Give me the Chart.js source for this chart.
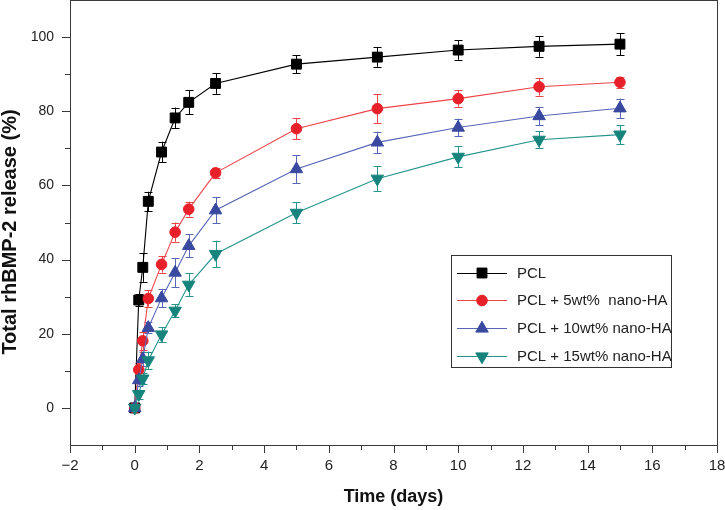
<!DOCTYPE html>
<html>
<head>
<meta charset="utf-8">
<script src="https://cdn.jsdelivr.net/npm/chart.js@4.4.1/dist/chart.umd.min.js"></script>
<style>
  html, body { margin: 0; padding: 0; background: #ffffff; }
  #wrap { width: 725px; height: 510px; }
</style>
</head>
<body>
<div id="wrap"><canvas id="c" width="725" height="510"></canvas></div>
<script>
// ---- data ----
const days = [0, 0.125, 0.25, 0.42, 0.83, 1.25, 1.67, 2.5, 5, 7.5, 10, 12.5, 15];

const pclValues  = [0, 29.1, 37.9, 55.7, 69.0, 78.2, 82.4, 87.5, 92.7, 94.6, 96.5, 97.5, 98.1];
const pclErrors  = [0, 1.5, 3.9, 2.6, 2.8, 2.8, 3.2, 2.8, 2.4, 2.6, 2.6, 2.8, 3.0];

const ha5Values  = [0, 10.3, 18.1, 29.5, 38.7, 47.4, 53.6, 63.4, 75.3, 80.7, 83.4, 86.6, 87.8];
const ha5Errors  = [0, 1.8, 2.5, 2.2, 2.2, 2.6, 2.0, 1.4, 2.9, 3.9, 2.2, 2.4, 1.5];

const ha10Values = [0, 7.5, 13.2, 21.6, 29.6, 36.5, 43.7, 53.3, 64.4, 71.6, 75.6, 78.7, 80.8];
const ha10Errors = [0, 1.5, 2.0, 1.5, 2.5, 3.9, 3.1, 3.5, 3.8, 2.9, 2.4, 2.5, 2.6];

const ha15Values = [0, 3.7, 7.9, 12.8, 19.8, 26.2, 33.2, 41.5, 52.6, 61.8, 67.7, 72.3, 73.7];
const ha15Errors = [0, 1.2, 1.5, 2.4, 2.0, 1.7, 3.1, 3.6, 2.8, 3.4, 2.8, 2.3, 2.6];

const seriesLabels = ['PCL', 'PCL + 5wt%  nano-HA', 'PCL + 10wt% nano-HA', 'PCL + 15wt% nano-HA'];

const xTickLabels = [-2, 0, 2, 4, 6, 8, 10, 12, 14, 16, 18];
const yTickLabels = [0, 20, 40, 60, 80, 100];
const xTitle = 'Time (days)';
const yTitle = 'Total rhBMP-2 release (%)';

// ---- build datasets ----
function pts(vals) { return days.map((d, i) => ({ x: d, y: vals[i] })); }

const styles = [
  { line: '#000000', fill: '#000000', style: 'rect', radius: 7, rotation: 0 },
  { line: '#ee4448', fill: '#e8202a', style: 'circle', radius: 5.3, rotation: 0 },
  { line: '#5866b8', fill: '#3949a0', style: 'triangle', radius: 7.2, rotation: 0 },
  { line: '#26948c', fill: '#16847c', style: 'triangle', radius: 7.2, rotation: 180 }
];
const allValues = [pclValues, ha5Values, ha10Values, ha15Values];
const allErrors = [pclErrors, ha5Errors, ha10Errors, ha15Errors];

const datasets = allValues.map((vals, i) => ({
  label: seriesLabels[i],
  data: pts(vals),
  errors: allErrors[i],
  showLine: true,
  borderColor: styles[i].line,
  borderWidth: 1.1,
  backgroundColor: styles[i].fill,
  pointBackgroundColor: styles[i].fill,
  pointBorderColor: styles[i].fill,
  pointBorderWidth: 1,
  pointStyle: styles[i].style,
  pointRadius: styles[i].radius,
  pointRotation: styles[i].rotation,
  tension: 0,
  order: 4 - i
}));

const AXIS = '#3a3a3a';

const errorBars = {
  id: 'errorBars',
  beforeDatasetsDraw(chart) {
    const ctx = chart.ctx, ys = chart.scales.y, xs = chart.scales.x;
    ctx.save();
    chart.data.datasets.forEach((ds) => {
      ctx.strokeStyle = ds.borderColor;
      ctx.lineWidth = 1;
      ds.data.forEach((p, i) => {
        const e = ds.errors[i];
        if (!e) return;
        const x = Math.round(xs.getPixelForValue(p.x)) + 0.5;
        const y1 = ys.getPixelForValue(p.y + e);
        const y2 = ys.getPixelForValue(p.y - e);
        ctx.beginPath();
        ctx.moveTo(x, y1); ctx.lineTo(x, y2);
        ctx.moveTo(x - 4, Math.round(y1) + 0.5); ctx.lineTo(x + 4, Math.round(y1) + 0.5);
        ctx.moveTo(x - 4, Math.round(y2) + 0.5); ctx.lineTo(x + 4, Math.round(y2) + 0.5);
        ctx.stroke();
      });
    });
    ctx.restore();
  }
};

const frameAndLegend = {
  id: 'frameAndLegend',
  afterDraw(chart) {
    const ctx = chart.ctx, a = chart.chartArea, xs = chart.scales.x, ys = chart.scales.y;
    ctx.save();
    // frame
    ctx.strokeStyle = AXIS;
    ctx.lineWidth = 1;
    ctx.strokeRect(Math.round(a.left) + 0.5, Math.round(a.top) + 0.5,
                   Math.round(a.right - a.left), Math.round(a.bottom - a.top));
    // ticks
    ctx.beginPath();
    for (let v = -2; v <= 18; v++) {
      const x = Math.round(xs.getPixelForValue(v)) + 0.5;
      const len = (v % 2 === 0) ? 8 : 5;
      ctx.moveTo(x, Math.round(a.bottom)); ctx.lineTo(x, Math.round(a.bottom) + len);
    }
    for (let v = 0; v <= 100; v += 10) {
      const y = Math.round(ys.getPixelForValue(v)) + 0.5;
      const len = (v % 20 === 0) ? 8 : 5;
      ctx.moveTo(Math.round(a.left), y); ctx.lineTo(Math.round(a.left) - len, y);
    }
    ctx.stroke();

    // y axis title
    ctx.save();
    ctx.translate(10.5, 232);
    ctx.rotate(-Math.PI / 2);
    ctx.font = 'bold 20px "Liberation Sans", Arial, sans-serif';
    ctx.fillStyle = '#111111';
    ctx.textAlign = 'center';
    ctx.textBaseline = 'middle';
    ctx.fillText(yTitle, 0, 0);
    ctx.restore();

    // legend
    const lx = 451.5, ly = 255.5, lw = 220, lh = 112;
    ctx.fillStyle = '#ffffff';
    ctx.fillRect(lx, ly, lw, lh);
    ctx.strokeStyle = '#333333';
    ctx.strokeRect(lx, ly, lw, lh);
    const rowY = [272.5, 300, 328, 356];
    ctx.font = '15px "Liberation Sans", Arial, sans-serif';
    ctx.textBaseline = 'middle';
    ctx.textAlign = 'left';
    chart.data.datasets.forEach((ds, i) => {
      const y = rowY[i];
      ctx.strokeStyle = ds.borderColor;
      ctx.lineWidth = 1;
      ctx.beginPath();
      ctx.moveTo(457, Math.round(y) + 0.5); ctx.lineTo(507, Math.round(y) + 0.5);
      ctx.stroke();
      ctx.fillStyle = ds.pointBackgroundColor;
      ctx.strokeStyle = ds.pointBorderColor;
      Chart.helpers.drawPoint(ctx, {
        pointStyle: ds.pointStyle, radius: ds.pointRadius,
        rotation: ds.pointRotation, borderWidth: 1
      }, 482, y + 0.5);
      ctx.fillStyle = '#222222';
      ctx.fillText(ds.label, 517, y + 1);
    });
    ctx.restore();
  }
};

new Chart(document.getElementById('c'), {
  type: 'scatter',
  data: { datasets },
  plugins: [errorBars, frameAndLegend],
  options: {
    responsive: false,
    devicePixelRatio: 1,
    animation: false,
    layout: { autoPadding: false, padding: { top: 0, right: 8, left: 0, bottom: 0 } },
    plugins: { legend: { display: false }, tooltip: { enabled: false } },
    scales: {
      x: {
        type: 'linear', min: -2, max: 18,
        afterFit(s) { s.height = 65; s.paddingLeft = 0; s.paddingRight = 0; },
        border: { display: false },
        grid: { display: false, drawTicks: false },
        ticks: {
          stepSize: 1, autoSkip: false, maxRotation: 0, padding: 12,
          color: '#222',
          font: { family: '"Liberation Sans Narrow", "Liberation Sans", sans-serif', size: 15 },
          callback: v => xTickLabels.includes(v) ? (v < 0 ? '\u2212' + Math.abs(v) : String(v)) : ''
        },
        title: {
          display: true, text: xTitle, color: '#111',
          font: { family: '"Liberation Sans Narrow", "Liberation Sans", sans-serif', size: 18, weight: 'bold', lineHeight: 1.2 },
          padding: { top: 0, bottom: 2 }
        }
      },
      y: {
        type: 'linear', min: -10, max: 110,
        afterFit(s) { s.width = 70; s.paddingTop = 0; s.paddingBottom = 0; },
        border: { display: false },
        grid: { display: false, drawTicks: false },
        ticks: {
          stepSize: 10, autoSkip: false, padding: 16,
          color: '#222',
          font: { family: '"Liberation Sans", sans-serif', size: 14 },
          callback: v => yTickLabels.includes(v) ? String(v) : ''
        },
        title: { display: false }
      }
    }
  }
});
</script>
</body>
</html>
